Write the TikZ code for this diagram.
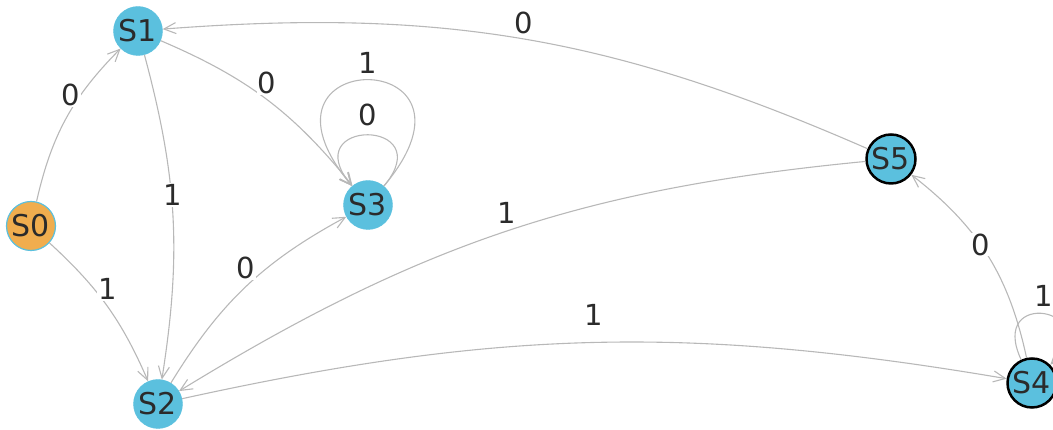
\documentclass[tikz,border=0pt]{standalone}
\usepackage{fontspec}
\setmainfont{DejaVu Sans}
\usetikzlibrary{arrows.meta}
\definecolor{stateblue}{HTML}{5BC0DE}
\definecolor{startorange}{HTML}{F0AD4E}
\definecolor{edgegray}{HTML}{B8B8B8}
\definecolor{textdark}{HTML}{2B2B2B}

\begin{document}
\begin{tikzpicture}[x=1pt,y=1pt,
  state/.style={circle, fill=stateblue, draw=stateblue, minimum size=49pt, inner sep=0pt,
    text=textdark, font=\fontsize{30}{34}\selectfont},
  final/.style={state, draw=black, line width=2.5pt},
  trans/.style={draw=edgegray, line width=1.1pt, -{Straight Barb[length=12pt,width=11pt]}},
  lbl/.style={fill=white, inner sep=1pt, text=textdark, font=\fontsize{29}{33}\selectfont}]
  \clip (0,0) rectangle (1053,430);

  % States
  \node[state, fill=startorange, line width=1.2pt] (s0) at (31,204) {S0};
  \node[state] (s1) at (138,399) {S1};
  \node[state] (s2) at (158,26) {S2};
  \node[state] (s3) at (368,225) {S3};
  \node[final] (s5) at (891,271) {S5};
  \node[final] (s4) at (1032,47) {S4};

  % Transitions
  \draw[trans] (s0) to[bend left=16] node[lbl, above=4pt, pos=.55] {0} (s1);
  \draw[trans] (s0) to[bend left=12] node[lbl, above=5pt] {1} (s2);
  \draw[trans] (s1) to[bend left=12] node[lbl, above=9pt] {1} (s2);
  \draw[trans] (s1) to[bend left=14] node[lbl, above=4pt] {0} (s3);
  \draw[trans] (s2) to[bend left=15] node[lbl, above=6pt] {0} (s3);
  \draw[trans] (s5) to[bend right=13] node[lbl, above=6pt] {1} (s2);
  \draw[trans] (s2) to[bend left=11] node[lbl, above=15pt] {1} (s4);
  \draw[trans] (s4) to[bend right=20] node[lbl, pos=.56] {0} (s5);
  \draw[trans] (s5) to[bend right=14] node[lbl, above=3pt] {0} (s1);

  % Self loops
  \draw[trans] (s3) to[out=50, in=130, distance=89pt] node[lbl, above=7pt] {0} (s3);
  \draw[trans] (s3) to[out=50, in=130, distance=185pt] node[lbl, above=5pt] {1} (s3);
  \draw[trans] (s4) to[out=115, in=45, distance=80pt] node[lbl, above=6pt] {1} (s4);
\end{tikzpicture}
\end{document}
